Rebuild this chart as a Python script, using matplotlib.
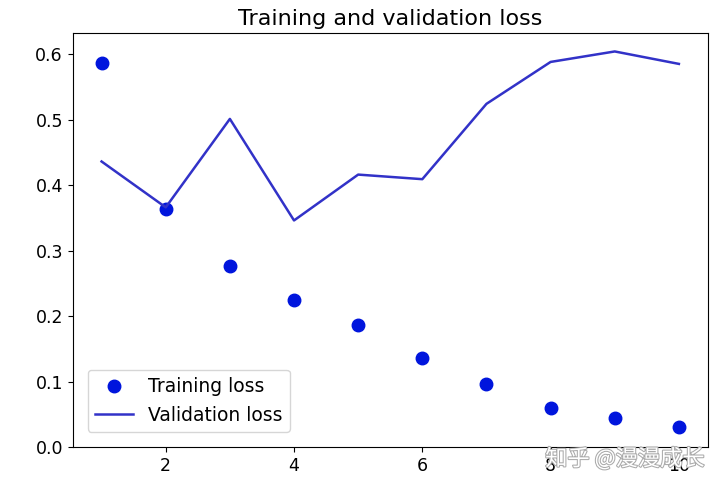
import matplotlib.pyplot as plt
import matplotlib.patheffects as pe

epochs = [1, 2, 3, 4, 5, 6, 7, 8, 9, 10]
loss = [0.587, 0.364, 0.277, 0.224, 0.186, 0.136, 0.097, 0.059, 0.045, 0.030]
val_loss = [0.436, 0.366, 0.501, 0.346, 0.416, 0.409, 0.524, 0.588, 0.604, 0.585]

plt.rcParams['font.size'] = 12.5
fig = plt.figure(figsize=(7.2, 4.87), dpi=100)
ax = fig.add_axes([0.101, 0.082, 0.882, 0.850])

ax.plot(epochs, loss, 'o', color='#0015dd', markersize=9, label='Training loss')
ax.plot(epochs, val_loss, '-', color='#3232c8', linewidth=1.8, label='Validation loss')
ax.set_title('Training and validation loss', fontsize=16)
ax.set_xticks([2, 4, 6, 8, 10])
ax.set_ylim(0, 0.632)
ax.legend(loc='lower left', fontsize=13.5, borderaxespad=0.8)

# 水印
fig.text(0.868, 0.058, '知乎 @漫漫成长', fontsize=16, color='white',
         family=['Noto Sans CJK SC', 'DejaVu Sans'], ha='center', va='center',
         path_effects=[pe.withStroke(linewidth=1.5, foreground='#aaaaaa')])

fig.savefig('out.png', dpi=100)
